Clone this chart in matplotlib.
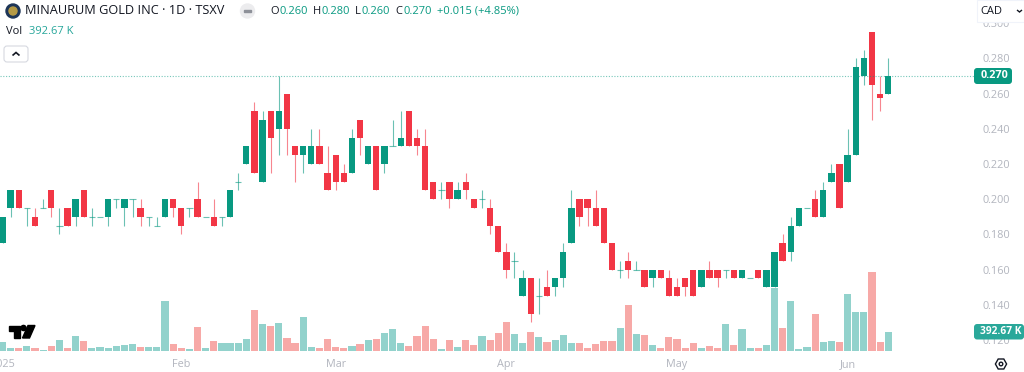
import matplotlib
matplotlib.use("Agg")
import matplotlib.pyplot as plt
from matplotlib.patches import Rectangle, FancyBboxPatch, Circle, Polygon

plt.rcParams['font.family'] = ['Open Sans', 'DejaVu Sans']

# daily candles
opens = [.175,.195,.205,.195,.19,.195,.205,.185,.195,.19,.205,.19,.19,.19,.20,.195,.20,.195,.19,.185,
         .19,.20,.195,.195,.20,.19,.19,.19,.19,.21,.22,.25,.21,.25,.24,.26,.23,.225,.22,.23,
         .215,.225,.215,.215,.245,.22,.23,.22,.23,.23,.25,.235,.23,.21,.205,.21,.20,.21,.20,.20,
         .195,.185,.17,.165,.145,.155,.145,.15,.15,.155,.175,.20,.20,.195,.195,.175,.16,.165,.16,.16,
         .155,.16,.155,.15,.155,.16,.15,.16,.16,.16,.16,.155,.155,.16,.15,.15,.175,.17,.185,.195,
         .20,.19,.21,.22,.21,.225,.27,.295,.26,.26]
highs = [.19,.205,.205,.195,.195,.20,.205,.195,.195,.20,.205,.195,.19,.20,.20,.20,.20,.20,.19,.19,
         .20,.20,.195,.195,.21,.19,.20,.19,.205,.215,.23,.255,.25,.25,.27,.26,.23,.23,.24,.24,
         .23,.225,.22,.24,.245,.23,.23,.23,.245,.25,.25,.24,.24,.21,.21,.21,.21,.215,.20,.205,
         .20,.185,.175,.17,.16,.155,.155,.16,.155,.175,.205,.20,.20,.205,.195,.175,.165,.17,.165,.16,
         .16,.16,.16,.155,.155,.16,.16,.165,.16,.16,.16,.16,.155,.16,.16,.17,.18,.19,.195,.195,
         .205,.21,.22,.22,.24,.28,.285,.295,.27,.28]
lows = [.175,.19,.195,.185,.185,.195,.19,.18,.185,.185,.19,.185,.19,.185,.195,.185,.19,.185,.185,.185,
        .19,.19,.18,.19,.19,.19,.185,.185,.19,.205,.22,.215,.21,.215,.225,.225,.21,.215,.22,.22,
        .205,.205,.21,.215,.225,.22,.205,.215,.23,.23,.23,.225,.205,.20,.20,.195,.20,.20,.195,.195,
        .18,.17,.155,.155,.145,.13,.135,.145,.145,.15,.175,.185,.185,.185,.175,.16,.155,.155,.16,.15,
        .15,.155,.145,.145,.145,.145,.15,.155,.15,.155,.155,.155,.155,.155,.15,.15,.165,.165,.185,.195,
        .19,.19,.21,.195,.21,.225,.265,.245,.25,.26]
closes = [.19,.205,.195,.195,.185,.195,.195,.185,.185,.20,.19,.19,.19,.20,.20,.20,.20,.19,.19,.185,
          .20,.195,.185,.195,.19,.19,.185,.19,.205,.21,.23,.215,.245,.235,.25,.24,.225,.23,.23,.22,
          .205,.21,.21,.235,.235,.23,.205,.23,.23,.235,.23,.23,.205,.20,.205,.20,.205,.205,.195,.20,
          .185,.17,.16,.165,.155,.135,.145,.145,.155,.17,.195,.19,.195,.185,.175,.16,.16,.16,.16,.15,
          .16,.155,.145,.145,.15,.145,.16,.155,.155,.16,.155,.16,.155,.155,.16,.17,.165,.185,.195,.195,
          .19,.205,.215,.195,.225,.275,.28,.265,.2575,.27]
# volume in thousands
volumes = [186,73,67,106,67,27,106,233,67,313,200,67,80,60,106,126,140,80,93,80,
           1005,146,60,47,492,60,200,160,160,173,240,819,539,512,572,266,173,692,93,67,
           240,93,73,106,140,226,246,359,453,160,113,313,499,240,40,220,87,226,126,313,
           220,373,579,339,173,386,280,186,220,326,173,166,73,146,206,200,466,925,346,326,
           126,60,293,240,60,160,73,113,60,546,126,446,67,67,120,1264,466,998,53,93,
           739,186,200,186,1151,785,779,1571,193,393]
volume_up = [c >= o for o, c in zip(opens, closes)]

month_ticks = [0, 22, 41, 62, 83, 104]
month_labels = ['2025', 'Feb', 'Mar', 'Apr', 'May', 'Jun']
price_ticks = [.12, .14, .16, .18, .20, .22, .24, .26, .28, .30]
last_price = 0.270

UP = '#089981'
DOWN = '#F23645'
VOL_UP = '#92D2CC'
VOL_DOWN = '#F7A9A7'
GREY = '#b2b5be'
DARK = '#131722'
W, H = 1024, 372

fig = plt.figure(figsize=(W / 100, H / 100), dpi=100, facecolor='white')
rect = [0, (H - 354) / H, 974 / W, 354 / H]

# volume sits under the candles on its own scale
ax_vol = fig.add_axes(rect, zorder=1)
ax = fig.add_axes(rect, zorder=2)
ax.patch.set_visible(False)

xs = list(range(len(opens)))
ax_vol.bar(xs, volumes, width=0.88, color=[VOL_UP if u else VOL_DOWN for u in volume_up])
ax_vol.set_xlim(-0.31, 119.55)
ax_vol.set_ylim(-54, 7002)
ax_vol.axis('off')

for x, o, h, l, c in zip(xs, opens, highs, lows, closes):
    col = UP if c >= o else DOWN
    ax.plot([x, x], [l, h], color=col, lw=0.8, alpha=0.6, solid_capstyle='butt')
    if o == c:
        ax.plot([x - 0.39, x + 0.39], [o, c], color=col, lw=0.8, alpha=0.6, solid_capstyle='butt')
    else:
        ax.bar(x, abs(c - o), bottom=min(o, c), width=0.78, color=col)

ax.axhline(last_price, color=UP, lw=0.8, ls=(0, (1, 1.5)), alpha=0.55)

ax.set_xlim(-0.31, 119.55)
ax.set_ylim(.1121, .3132)
for s in ax.spines.values():
    s.set_visible(False)
ax.yaxis.tick_right()
ax.set_yticks(price_ticks)
ax.set_yticklabels(['%.3f' % p for p in price_ticks])
ax.set_xticks(month_ticks)
ax.set_xticklabels(month_labels)
ax.tick_params(axis='y', length=0, pad=5.8, labelsize=7.8, labelcolor=GREY)
ax.tick_params(axis='x', length=0, pad=3.5, labelsize=7.8, labelcolor=GREY)


def fx(px):
    return px / W


def fy(py):
    return 1 - py / H


def label(px, py, s, **kw):
    kw.setdefault('va', 'center')
    kw.setdefault('fontsize', 8)
    kw.setdefault('color', DARK)
    return fig.text(fx(px), fy(py), s, zorder=12, **kw)


def box(x0, y0, x1, y1, **kw):
    p = FancyBboxPatch((fx(x0), fy(y1)), fx(x1 - x0), (y1 - y0) / H, transform=fig.transFigure,
                       boxstyle='round,pad=0,rounding_size=0.003', mutation_aspect=W / H, zorder=11, **kw)
    fig.add_artist(p)


def chevron(pts, lw=1.1):
    fig.add_artist(Polygon([(fx(a), fy(b)) for a, b in pts], closed=False, fill=False, transform=fig.transFigure,
                           edgecolor=DARK, lw=lw, zorder=12))


# logo and header
fig.add_artist(Circle((13, H - 11), 7, transform=None, color='#1d3557', zorder=11))
fig.add_artist(Circle((13, H - 11), 4, transform=None, color='#b59a45', zorder=12))
label(25, 11, 'MINAURUM GOLD INC · 1D · TSXV', fontsize=9.2)
fig.add_artist(Circle((247.5, H - 11), 7, transform=None, color='#ececee', zorder=11))
fig.add_artist(Rectangle((244, H - 12), 7, 2, transform=None, color='#8e9199', zorder=12))

for px_letter, letter, px_val, val in [(270, 'O', 279, '0.260'), (312.5, 'H', 321, '0.280'),
                                       (355, 'L', 361, '0.260'), (395, 'C', 403, '0.270')]:
    label(px_letter, 11, letter)
    label(px_val, 11, val, color=UP)
label(437, 11, '+0.015 (+4.85%)', color=UP)

label(6, 32, 'Vol')
label(29, 32, '392.67 K', color='#26a69a')

# collapse button
box(4, 46, 28, 62, facecolor='white', edgecolor='#d6d9e0', linewidth=0.8)
chevron([(12.5, 55.5), (16, 52.5), (19.5, 55.5)], lw=1.2)

# TV logo
fig.add_artist(Polygon([(fx(8.5), fy(325.5)), (fx(20), fy(325.5)), (fx(20), fy(338)), (fx(14), fy(338)),
                        (fx(14), fy(331)), (fx(8.5), fy(331))], closed=True, transform=fig.transFigure, color='black', zorder=5))
fig.add_artist(Circle((23.5, H - 328), 2.6, transform=None, color='black', zorder=5))
fig.add_artist(Polygon([(fx(28), fy(325.5)), (fx(35), fy(325.5)), (fx(29.5), fy(338)), (fx(22.5), fy(338))],
                       closed=True, transform=fig.transFigure, color='black', zorder=5))

# currency box hides the top price label
fig.add_artist(Rectangle((fx(977), fy(22)), fx(47), 22 / H, transform=fig.transFigure, facecolor='white', edgecolor='#f0f3fa', lw=0.8, zorder=10))
label(980, 11, 'CAD')
chevron([(1017, 10), (1019.5, 12), (1022, 10)], lw=1)

# last price and last volume tags
box(974, 68, 1012, 84, facecolor=UP, edgecolor='none')
label(994.5, 76, '0.270', fontsize=7.8, color='white', fontweight='bold', ha='center')
box(974, 324, 1024, 339.5, facecolor='#2aa89a', edgecolor='none')
label(1001, 331.5, '392.67 K', fontsize=7.3, color='white', fontweight='bold', ha='center')

# settings icon
hx = [(1001 + dx, 364 + dy) for dx, dy in [(-2.8, -5), (2.8, -5), (5.6, 0), (2.8, 5), (-2.8, 5), (-5.6, 0)]]
fig.add_artist(Polygon([(fx(a), fy(b)) for a, b in hx], closed=True, transform=fig.transFigure,
                       facecolor='white', edgecolor=DARK, lw=1, zorder=11))
fig.add_artist(Circle((1001, H - 364), 1.8, transform=None, facecolor='white', edgecolor=DARK, lw=1, zorder=12))

fig.savefig('out.png', dpi=100)
